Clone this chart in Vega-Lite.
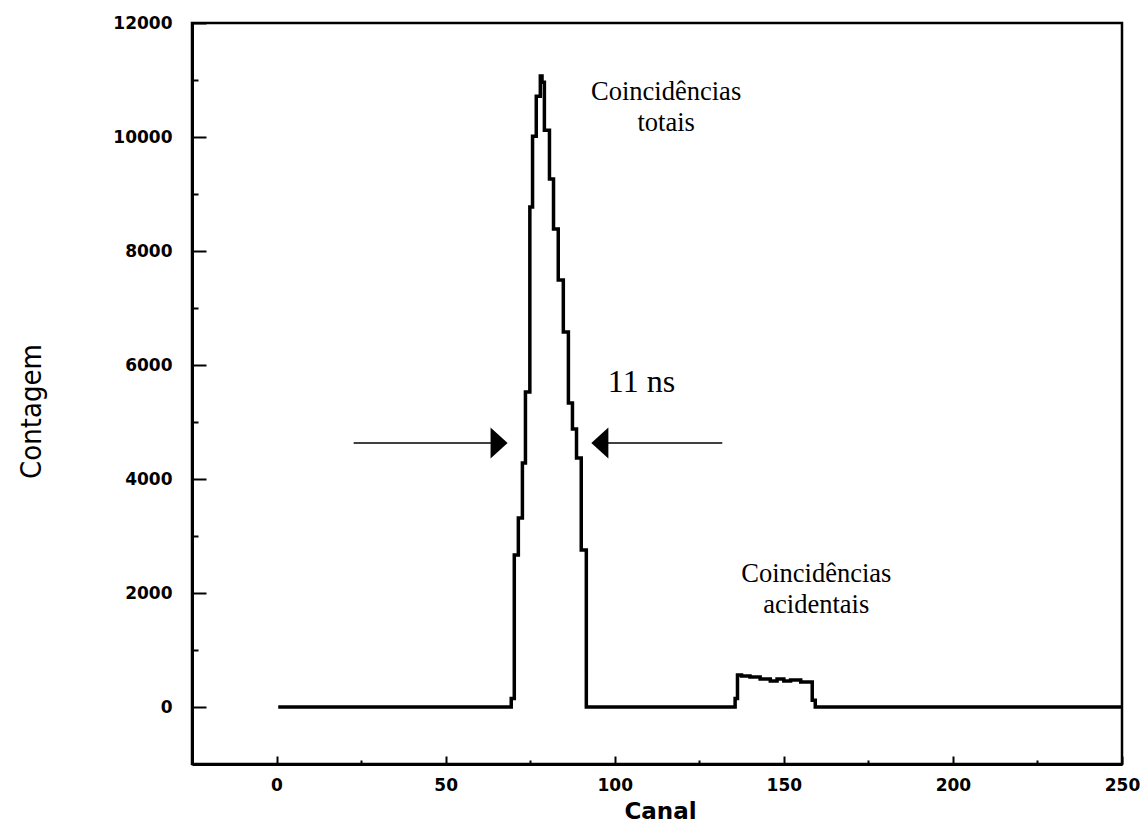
{
  "$schema": "https://vega.github.io/schema/vega-lite/v6.json",
  "width": 930,
  "height": 741,
  "autosize": {"type": "none"},
  "padding": {"left": 192, "top": 23, "right": 25, "bottom": 64},
  "background": "white",
  "config": {
    "view": {"stroke": "black", "strokeWidth": 2.5},
    "axis": {
      "grid": false,
      "domainColor": "black",
      "domainWidth": 3,
      "tickColor": "black",
      "tickWidth": 2,
      "labelColor": "black",
      "labelFont": "DejaVu Sans",
      "labelFontWeight": "bold",
      "labelFontSize": 17,
      "labelFlush": false,
      "labelOverlap": false,
      "titleColor": "black"
    }
  },
  "datasets": {
    "counts": [
      {"canal": 0.5, "contagem": 0},
      {"canal": 69.4, "contagem": 150},
      {"canal": 70.3, "contagem": 2666},
      {"canal": 71.5, "contagem": 3315},
      {"canal": 72.7, "contagem": 4280},
      {"canal": 73.6, "contagem": 5525},
      {"canal": 74.9, "contagem": 8770},
      {"canal": 75.7, "contagem": 10015},
      {"canal": 76.8, "contagem": 10717},
      {"canal": 78.0, "contagem": 11068},
      {"canal": 78.5, "contagem": 10960},
      {"canal": 79.2, "contagem": 10120},
      {"canal": 80.7, "contagem": 9261},
      {"canal": 81.9, "contagem": 8384},
      {"canal": 83.3, "contagem": 7490},
      {"canal": 84.8, "contagem": 6577},
      {"canal": 86.3, "contagem": 5332},
      {"canal": 87.5, "contagem": 4876},
      {"canal": 88.7, "contagem": 4367},
      {"canal": 90.1, "contagem": 2754},
      {"canal": 91.6, "contagem": 0},
      {"canal": 135.6, "contagem": 150},
      {"canal": 136.3, "contagem": 560},
      {"canal": 137.5, "contagem": 545},
      {"canal": 140.0, "contagem": 526},
      {"canal": 143.0, "contagem": 490},
      {"canal": 146.0, "contagem": 456},
      {"canal": 148.0, "contagem": 490},
      {"canal": 150.0, "contagem": 456},
      {"canal": 152.0, "contagem": 473},
      {"canal": 155.0, "contagem": 438},
      {"canal": 158.4, "contagem": 120},
      {"canal": 159.3, "contagem": 0},
      {"canal": 250.0, "contagem": 0}
    ],
    "arrows": [
      {"x": 22.8, "x2": 64.0, "y": 4630},
      {"x": 97.5, "x2": 131.8, "y": 4630}
    ],
    "heads": [
      {"x": 65.8, "y": 4630, "dir": "right"},
      {"x": 95.6, "y": 4630, "dir": "left"}
    ],
    "notes": [
      {"x": 115.2, "y": 10647, "label": "Coincidências\ntotais"},
      {"x": 159.6, "y": 2193, "label": "Coincidências\nacidentais"}
    ],
    "width_note": [
      {"x": 107.9, "y": 5525, "label": "11 ns"}
    ]
  },
  "layer": [
    {
      "data": {"name": "counts"},
      "mark": {"type": "line", "interpolate": "step-after", "stroke": "black", "strokeWidth": 3.5},
      "encoding": {
        "x": {
          "field": "canal", "type": "quantitative",
          "scale": {"domain": [-25, 250], "nice": false, "zero": false},
          "axis": {
            "orient": "bottom",
            "values": [0, 50, 100, 150, 200, 250],
            "format": "d",
            "tickSize": -8,
            "labelPadding": 21,
            "title": "Canal",
            "titleFont": "DejaVu Sans",
            "titleFontWeight": "bold",
            "titleFontSize": 23,
            "titleX": 468,
            "titleY": 47,
            "titleAlign": "center",
            "titleBaseline": "middle"
          }
        },
        "y": {
          "field": "contagem", "type": "quantitative",
          "scale": {"domain": [-1000, 12000], "nice": false, "zero": false},
          "axis": {
            "orient": "left",
            "values": [0, 2000, 4000, 6000, 8000, 10000, 12000],
            "format": "d",
            "tickSize": -14,
            "labelPadding": 34,
            "title": "Contagem",
            "titleFont": "DejaVu Sans Condensed, DejaVu Sans, sans-serif",
            "titleFontWeight": "normal",
            "titleFontSize": 29,
            "titleAngle": -90,
            "titleX": -161,
            "titleY": 388,
            "titleAlign": "center",
            "titleBaseline": "middle"
          }
        }
      }
    },
    {
      "data": {"name": "arrows"},
      "mark": {"type": "rule", "stroke": "black", "strokeWidth": 1.5},
      "encoding": {
        "x": {
          "field": "x", "type": "quantitative",
          "scale": {"domain": [-25, 250], "nice": false, "zero": false},
          "axis": {
            "orient": "bottom",
            "values": [25, 75, 125, 175, 225],
            "tickSize": -4,
            "labels": false,
            "domain": false,
            "title": null
          }
        },
        "x2": {"field": "x2"},
        "y": {
          "field": "y", "type": "quantitative",
          "scale": {"domain": [-1000, 12000], "nice": false, "zero": false},
          "axis": {
            "orient": "left",
            "values": [1000, 3000, 5000, 7000, 9000, 11000],
            "tickSize": -6,
            "labels": false,
            "domain": false,
            "title": null
          }
        }
      }
    },
    {
      "data": {"name": "heads"},
      "mark": {"type": "point", "filled": true, "opacity": 1, "color": "black", "size": 961},
      "encoding": {
        "x": {"field": "x", "type": "quantitative", "scale": {"domain": [-25, 250], "nice": false, "zero": false}, "axis": null},
        "y": {"field": "y", "type": "quantitative", "scale": {"domain": [-1000, 12000], "nice": false, "zero": false}, "axis": null},
        "shape": {
          "field": "dir", "type": "nominal",
          "scale": {"domain": ["right", "left"], "range": ["M -0.55 -1 L 0.55 0 L -0.55 1 Z", "M 0.55 -1 L -0.55 0 L 0.55 1 Z"]},
          "legend": null
        }
      }
    },
    {
      "data": {"name": "notes"},
      "mark": {"type": "text", "font": "Liberation Serif", "fontSize": 26.5, "lineBreak": "\n", "lineHeight": 31, "align": "center", "baseline": "alphabetic", "color": "black"},
      "encoding": {
        "x": {"field": "x", "type": "quantitative", "scale": {"domain": [-25, 250], "nice": false, "zero": false}, "axis": null},
        "y": {"field": "y", "type": "quantitative", "scale": {"domain": [-1000, 12000], "nice": false, "zero": false}, "axis": null},
        "text": {"field": "label"}
      }
    },
    {
      "data": {"name": "width_note"},
      "mark": {"type": "text", "font": "Liberation Serif", "fontSize": 32, "align": "center", "baseline": "alphabetic", "color": "black"},
      "encoding": {
        "x": {"field": "x", "type": "quantitative", "scale": {"domain": [-25, 250], "nice": false, "zero": false}, "axis": null},
        "y": {"field": "y", "type": "quantitative", "scale": {"domain": [-1000, 12000], "nice": false, "zero": false}, "axis": null},
        "text": {"field": "label"}
      }
    }
  ],
  "resolve": {"axis": {"x": "independent", "y": "independent"}}
}
